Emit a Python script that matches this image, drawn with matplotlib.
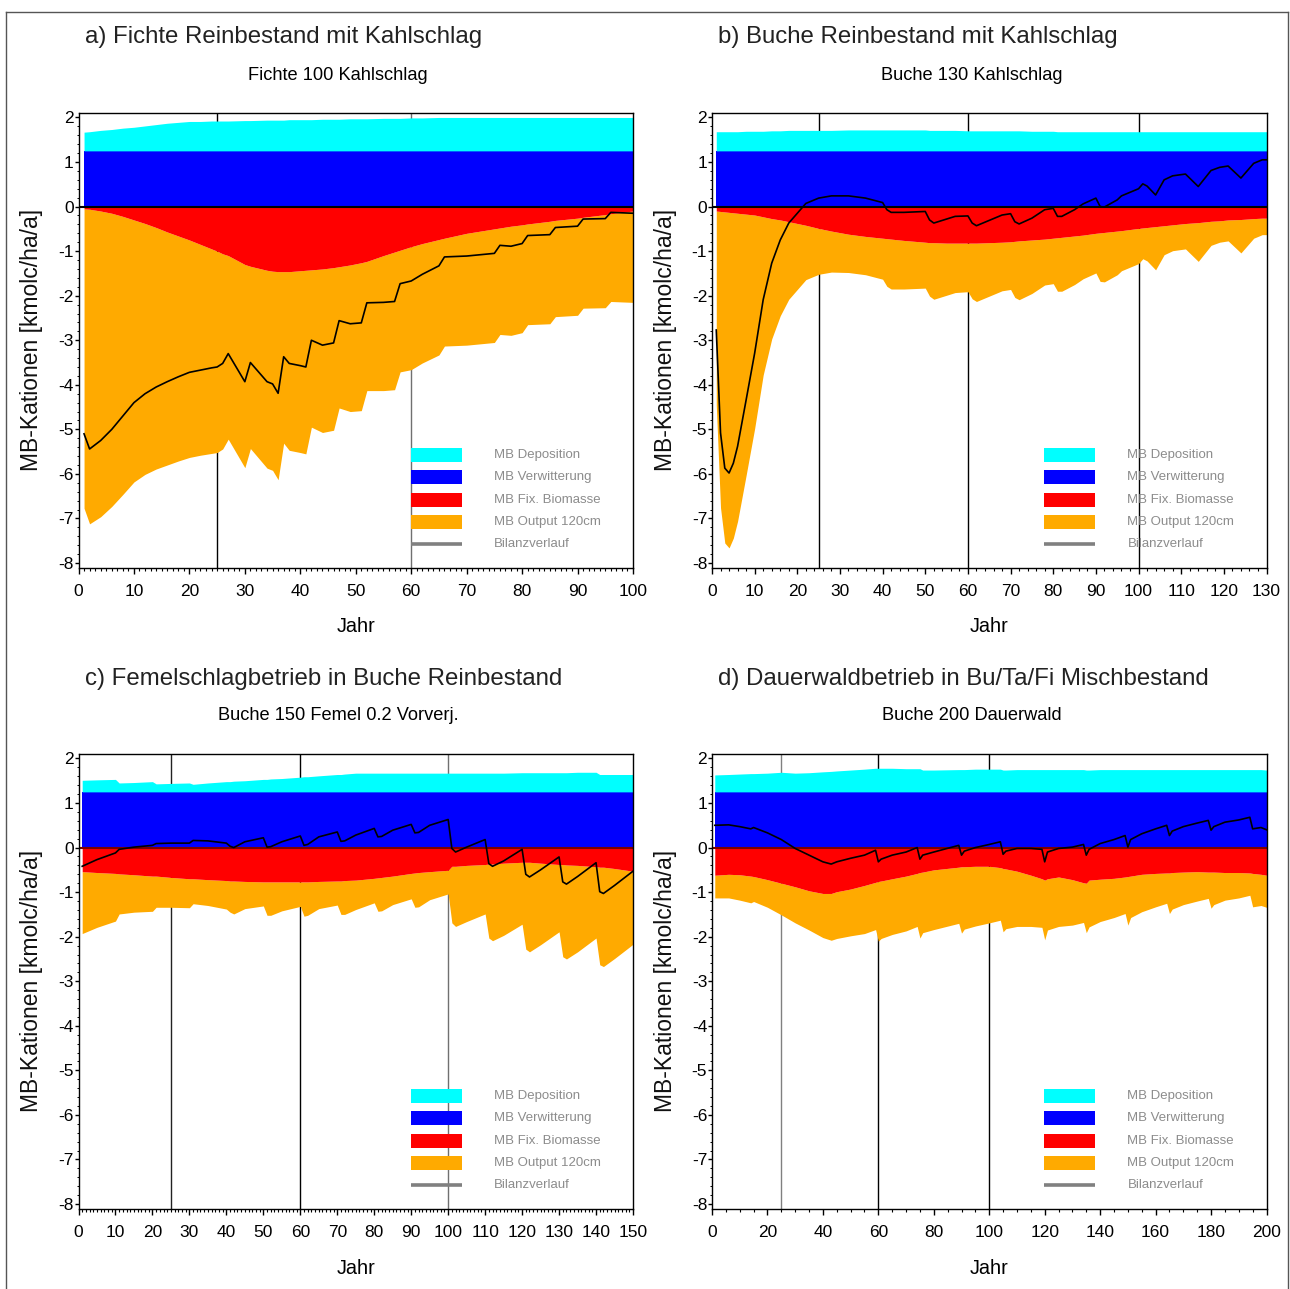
import numpy as np
import matplotlib
matplotlib.use("Agg")
import matplotlib.pyplot as plt
from matplotlib import font_manager
from matplotlib.lines import Line2D
from matplotlib.patches import Rectangle
from matplotlib.ticker import MultipleLocator

# fonts: condensed face for ticks / subtitles if available
installed = {f.name for f in font_manager.fontManager.ttflist}
NARROW = "Liberation Sans Narrow" if "Liberation Sans Narrow" in installed else "Liberation Sans"
SCALE = 1.0 if NARROW == "Liberation Sans Narrow" else 0.82
plt.rcParams["font.family"] = [NARROW, "DejaVu Sans"]
plt.rcParams["axes.unicode_minus"] = False

CYAN, BLUE, RED, ORANGE = "#00ffff", "#0000ff", "#ff0000", "#ffaa00"

weathering = 1.25  # MB Verwitterung, constant in all scenarios

# ---- a) Fichte 100 Kahlschlag ----
years_a = [1, 2, 4, 6, 8, 10, 12, 14, 16, 18,
           20, 22, 24, 25, 26, 27, 30, 31, 34, 35,
           36, 37, 38, 40, 41, 42, 44, 46, 47, 49,
           51, 52, 55, 57, 58, 60, 62, 65, 66, 70,
           75, 76, 78, 80, 81, 85, 86, 90, 91, 95,
           96, 100]
dep_a = [0.42, 0.43, 0.46, 0.48, 0.51, 0.53, 0.56, 0.59, 0.62, 0.64,
         0.66, 0.66, 0.67, 0.67, 0.67, 0.67, 0.68, 0.68, 0.69, 0.69,
         0.69, 0.69, 0.70, 0.70, 0.70, 0.70, 0.71, 0.71, 0.71, 0.72,
         0.72, 0.72, 0.73, 0.73, 0.73, 0.74, 0.74, 0.75, 0.75, 0.75,
         0.75, 0.75, 0.75, 0.75, 0.75, 0.75, 0.75, 0.75, 0.75, 0.75,
         0.75, 0.75]
fix_a = [0.05, 0.06, 0.10, 0.15, 0.22, 0.30, 0.38, 0.47, 0.57, 0.66,
         0.75, 0.85, 0.95, 1.00, 1.06, 1.10, 1.30, 1.34, 1.43, 1.45,
         1.46, 1.46, 1.46, 1.44, 1.43, 1.42, 1.40, 1.37, 1.35, 1.31,
         1.26, 1.23, 1.10, 1.02, 0.98, 0.90, 0.83, 0.74, 0.71, 0.60,
         0.50, 0.48, 0.44, 0.41, 0.39, 0.33, 0.31, 0.26, 0.24, 0.18,
         0.16, 0.10]
bal_a = [-5.10, -5.44, -5.25, -5.00, -4.70, -4.40, -4.20, -4.05, -3.93, -3.82,
         -3.72, -3.67, -3.62, -3.60, -3.52, -3.30, -3.93, -3.50, -3.93, -3.98,
         -4.19, -3.37, -3.52, -3.57, -3.60, -3.00, -3.11, -3.06, -2.56, -2.63,
         -2.61, -2.16, -2.15, -2.13, -1.73, -1.67, -1.52, -1.33, -1.13, -1.11,
         -1.05, -0.87, -0.89, -0.83, -0.65, -0.63, -0.47, -0.44, -0.28, -0.27,
         -0.13, -0.15]

# ---- b) Buche 130 Kahlschlag ----
years_b = [1, 2, 3, 4, 5, 6, 8, 10, 12, 14,
           16, 18, 20, 22, 25, 28, 32, 36, 40, 41,
           42, 45, 50, 51, 52, 55, 57, 60, 61, 62,
           65, 68, 70, 71, 72, 75, 78, 80, 81, 82,
           85, 87, 90, 91, 92, 95, 96, 100, 101, 102,
           104, 106, 108, 111, 114, 117, 119, 121, 124, 127,
           129, 130]
dep_b = [0.43, 0.43, 0.43, 0.43, 0.43, 0.43, 0.44, 0.44, 0.44, 0.45,
         0.45, 0.46, 0.46, 0.46, 0.46, 0.46, 0.47, 0.47, 0.47, 0.47,
         0.47, 0.47, 0.47, 0.46, 0.46, 0.46, 0.46, 0.45, 0.45, 0.45,
         0.45, 0.45, 0.45, 0.45, 0.45, 0.44, 0.44, 0.44, 0.43, 0.43,
         0.43, 0.43, 0.43, 0.43, 0.43, 0.43, 0.43, 0.43, 0.43, 0.43,
         0.43, 0.43, 0.43, 0.43, 0.43, 0.43, 0.43, 0.43, 0.43, 0.43,
         0.43, 0.43]
fix_b = [0.10, 0.11, 0.12, 0.13, 0.14, 0.15, 0.17, 0.19, 0.23, 0.27,
         0.30, 0.34, 0.38, 0.42, 0.49, 0.55, 0.62, 0.67, 0.71, 0.72,
         0.73, 0.76, 0.80, 0.81, 0.81, 0.82, 0.82, 0.82, 0.82, 0.82,
         0.81, 0.80, 0.79, 0.78, 0.77, 0.75, 0.73, 0.71, 0.70, 0.69,
         0.66, 0.64, 0.60, 0.59, 0.58, 0.55, 0.54, 0.49, 0.48, 0.47,
         0.45, 0.43, 0.41, 0.38, 0.36, 0.33, 0.32, 0.30, 0.29, 0.27,
         0.26, 0.26]
bal_b = [-2.77, -5.08, -5.87, -5.98, -5.76, -5.38, -4.34, -3.29, -2.09, -1.27,
         -0.75, -0.37, -0.15, 0.07, 0.19, 0.24, 0.24, 0.19, 0.09, -0.07,
         -0.13, -0.13, -0.11, -0.30, -0.37, -0.28, -0.22, -0.21, -0.37, -0.43,
         -0.31, -0.19, -0.16, -0.34, -0.39, -0.26, -0.07, -0.04, -0.22, -0.22,
         -0.07, 0.06, 0.19, 0.00, -0.01, 0.15, 0.24, 0.40, 0.51, 0.46,
         0.26, 0.60, 0.69, 0.73, 0.45, 0.81, 0.88, 0.91, 0.64, 0.97,
         1.05, 1.05]

# ---- c) Buche 150 Femel 0.2 Vorverj. ----
years_c = [1, 5, 10, 11, 15, 20, 21, 25, 30, 31,
           35, 40, 41, 42, 45, 50, 51, 52, 55, 60,
           61, 62, 65, 70, 71, 72, 75, 80, 81, 82,
           85, 90, 91, 92, 95, 100, 101, 102, 105, 110,
           111, 112, 115, 120, 121, 122, 125, 130, 131, 132,
           135, 140, 141, 142, 145, 150]
dep_c = [0.26, 0.27, 0.28, 0.20, 0.21, 0.23, 0.18, 0.19, 0.20, 0.17,
         0.20, 0.23, 0.23, 0.24, 0.25, 0.28, 0.28, 0.29, 0.30, 0.33,
         0.34, 0.34, 0.36, 0.39, 0.39, 0.40, 0.42, 0.42, 0.42, 0.42,
         0.42, 0.42, 0.42, 0.42, 0.42, 0.42, 0.42, 0.42, 0.42, 0.42,
         0.42, 0.42, 0.42, 0.43, 0.43, 0.43, 0.43, 0.43, 0.43, 0.43,
         0.44, 0.44, 0.39, 0.39, 0.39, 0.39]
fix_c = [0.54, 0.56, 0.58, 0.59, 0.61, 0.64, 0.64, 0.67, 0.70, 0.70,
         0.72, 0.74, 0.75, 0.75, 0.76, 0.77, 0.77, 0.77, 0.77, 0.77,
         0.77, 0.77, 0.76, 0.75, 0.75, 0.74, 0.73, 0.69, 0.68, 0.67,
         0.64, 0.58, 0.57, 0.56, 0.54, 0.51, 0.42, 0.42, 0.40, 0.38,
         0.37, 0.37, 0.35, 0.33, 0.33, 0.33, 0.35, 0.38, 0.38, 0.39,
         0.40, 0.43, 0.44, 0.44, 0.47, 0.53]
bal_c = [-0.42, -0.27, -0.12, -0.04, 0.01, 0.05, 0.09, 0.10, 0.10, 0.16,
         0.15, 0.10, 0.03, 0.00, 0.13, 0.22, 0.01, 0.02, 0.13, 0.26,
         0.05, 0.07, 0.24, 0.35, 0.14, 0.15, 0.28, 0.43, 0.24, 0.25,
         0.39, 0.52, 0.33, 0.34, 0.50, 0.63, -0.02, -0.10, 0.01, 0.18,
         -0.36, -0.42, -0.30, -0.04, -0.60, -0.66, -0.50, -0.21, -0.77, -0.82,
         -0.65, -0.34, -0.99, -1.03, -0.85, -0.53]

# ---- d) Buche 200 Dauerwald ----
years_d = [1, 6, 10, 14, 15, 20, 25, 30, 35, 40,
           43, 45, 50, 55, 59, 60, 61, 65, 70, 74,
           75, 76, 80, 89, 90, 91, 95, 100, 104, 105,
           106, 110, 115, 119, 120, 121, 125, 130, 134, 135,
           136, 140, 145, 149, 150, 151, 155, 160, 164, 165,
           166, 170, 175, 179, 180, 181, 185, 190, 194, 195,
           198, 200]
dep_d = [0.38, 0.39, 0.40, 0.41, 0.41, 0.42, 0.44, 0.42, 0.43, 0.45,
         0.46, 0.47, 0.49, 0.51, 0.53, 0.53, 0.53, 0.53, 0.52, 0.52,
         0.52, 0.49, 0.49, 0.50, 0.50, 0.50, 0.51, 0.51, 0.51, 0.49,
         0.49, 0.50, 0.50, 0.50, 0.50, 0.50, 0.50, 0.50, 0.50, 0.49,
         0.49, 0.50, 0.50, 0.50, 0.50, 0.50, 0.50, 0.50, 0.50, 0.50,
         0.50, 0.50, 0.50, 0.50, 0.50, 0.50, 0.50, 0.50, 0.50, 0.50,
         0.50, 0.49]
fix_d = [0.62, 0.60, 0.61, 0.64, 0.65, 0.72, 0.80, 0.88, 0.97, 1.03,
         1.03, 0.99, 0.93, 0.85, 0.78, 0.76, 0.75, 0.70, 0.64, 0.58,
         0.56, 0.55, 0.50, 0.44, 0.43, 0.43, 0.42, 0.42, 0.45, 0.47,
         0.48, 0.53, 0.62, 0.70, 0.73, 0.70, 0.66, 0.72, 0.79, 0.80,
         0.73, 0.71, 0.69, 0.66, 0.65, 0.64, 0.60, 0.58, 0.57, 0.57,
         0.56, 0.55, 0.54, 0.55, 0.55, 0.55, 0.56, 0.56, 0.57, 0.58,
         0.60, 0.62]
bal_d = [0.50, 0.51, 0.47, 0.42, 0.45, 0.33, 0.18, -0.02, -0.17, -0.32,
         -0.37, -0.32, -0.24, -0.17, -0.06, -0.32, -0.26, -0.17, -0.10, 0.00,
         -0.26, -0.17, -0.10, 0.05, -0.17, -0.08, 0.00, 0.07, 0.13, -0.15,
         -0.08, -0.02, -0.02, -0.04, -0.32, -0.10, -0.02, 0.01, 0.07, -0.17,
         -0.04, 0.09, 0.18, 0.27, 0.01, 0.18, 0.31, 0.42, 0.50, 0.27,
         0.37, 0.47, 0.55, 0.61, 0.39, 0.47, 0.57, 0.62, 0.68, 0.42,
         0.45, 0.40]

titles = ["a) Fichte Reinbestand mit Kahlschlag", "b) Buche Reinbestand mit Kahlschlag",
          "c) Femelschlagbetrieb in Buche Reinbestand", "d) Dauerwaldbetrieb in Bu/Ta/Fi Mischbestand"]
subtitles = ["Fichte 100 Kahlschlag", "Buche 130 Kahlschlag",
             "Buche 150 Femel 0.2 Vorverj.", "Buche 200 Dauerwald"]
legend_labels = ["MB Deposition", "MB Verwitterung", "MB Fix. Biomasse",
                 "MB Output 120cm", "Bilanzverlauf"]

W, H = 1290, 1289
fig = plt.figure(figsize=(W / 100, H / 100), dpi=100)


def fx(px):
    return px / W


def fy(py):
    return 1 - py / H


panels = [
    # data, xmax, major, minor, vlines(year, colour), zero colour, box px (l, t, r, b)
    ((years_a, dep_a, fix_a, bal_a), 100, 10, 1, [(25, "#000000"), (60, "#707070")], "black", (78.5, 113, 633, 567.5)),
    ((years_b, dep_b, fix_b, bal_b), 130, 10, 2, [(25, "#000000"), (60, "#000000"), (100, "#000000")], "black", (712, 113, 1266.5, 567.5)),
    ((years_c, dep_c, fix_c, bal_c), 150, 10, 1, [(25, "#222222"), (60, "#000000"), (100, "#707070")], "#7a0000", (78.5, 754, 633, 1208.5)),
    ((years_d, dep_d, fix_d, bal_d), 200, 20, 5, [(25, "#808080"), (60, "#000000"), (100, "#000000")], "#7a0000", (712, 754, 1266.5, 1208.5)),
]

legend_rows = [0.2475, 0.1991, 0.1485, 0.1001, 0.0517]
legend_cols = [CYAN, BLUE, RED, ORANGE, "#808080"]
tick_size = 14 if NARROW == "Liberation Sans Narrow" else 12.5

for k, (data, xmax, major, minor, vlines, zcol, box) in enumerate(panels):
    l, t, r, b = box
    ax = fig.add_axes([fx(l), fy(b), (r - l) / W, (b - t) / H])
    years, dep, fix, bal = (np.array(v, dtype=float) for v in data)
    verw = np.full(len(years), weathering)
    # output below 120cm closes the balance: bal = dep + verw - fix - out
    out = dep + verw - fix - bal

    for x, c in vlines:
        ax.axvline(x, color=c, lw=1, zorder=0.5)
    ax.fill_between(years, -fix, -fix - out, color=ORANGE, lw=0, zorder=1)
    ax.fill_between(years, 0, -fix, color=RED, lw=0, zorder=1.2)
    ax.fill_between(years, 0, verw, color=BLUE, lw=0, zorder=1.2)
    ax.fill_between(years, verw, verw + dep, color=CYAN, lw=0, zorder=1.2)
    ax.axhline(0, color=zcol, lw=1.5, zorder=2)
    ax.plot(years, bal, color="black", lw=1.2, zorder=3)

    ax.set_xlim(0, xmax)
    ax.set_ylim(-8.1, 2.1)
    ax.xaxis.set_major_locator(MultipleLocator(major))
    ax.xaxis.set_minor_locator(MultipleLocator(minor))
    ax.yaxis.set_major_locator(MultipleLocator(1))
    ax.yaxis.set_minor_locator(MultipleLocator(0.2))
    ax.tick_params(axis="x", which="major", direction="out", length=4, width=1, pad=8,
                   labelsize=tick_size)
    ax.tick_params(axis="x", which="minor", direction="out", length=2.5, width=0.8)
    ax.tick_params(axis="y", which="major", direction="out", length=3, width=1, pad=0.5,
                   labelsize=tick_size)
    ax.tick_params(axis="y", which="minor", direction="out", length=1.8, width=0.7)
    for s in ax.spines.values():
        s.set_linewidth(1)
        s.set_zorder(4)

    # legend drawn inside the plot area
    hh = 14 / (b - t)
    for lab, col, yr in zip(legend_labels, legend_cols, legend_rows):
        if lab == "Bilanzverlauf":
            ax.plot([0.5996, 0.6916], [yr, yr], transform=ax.transAxes, color=col,
                    lw=2.6, solid_capstyle="butt", zorder=6)
        else:
            ax.add_patch(Rectangle((0.5996, yr - hh / 2), 0.092, hh, transform=ax.transAxes,
                                   facecolor=col, lw=0, zorder=6))
        ax.text(0.7493, yr, lab, transform=ax.transAxes, va="center", ha="left",
                color="#8c8c8c", fontsize=11.6 * SCALE, zorder=6)

    top_row = t < 400
    fig.text(fx(l + 6.5), fy(37 if top_row else 679), titles[k], ha="left", va="center",
             fontsize=17.3, color="#222222", family=["Liberation Sans", "DejaVu Sans"])
    fig.text(fx(l + 259.5), fy(75 if top_row else 716), subtitles[k], ha="center", va="center",
             fontsize=16 * SCALE, color="black")
    fig.text(fx((l + r) / 2), fy(627 if top_row else 1268), "Jahr", ha="center", va="center",
             fontsize=17.5 * SCALE, color="black")
    fig.text(fx(l - 46.5), fy((t + b) / 2), "MB-Kationen [kmolc/ha/a]", rotation=90,
             ha="center", va="center", fontsize=16.5, color="#111111",
             family=["Liberation Sans", "DejaVu Sans"])

# outer frame (left, top, right)
frame = dict(transform=fig.transFigure, color="#555555", lw=1)
fig.add_artist(Line2D([fx(6), fx(6)], [0, fy(12)], **frame))
fig.add_artist(Line2D([fx(6), fx(1288)], [fy(12), fy(12)], **frame))
fig.add_artist(Line2D([fx(1288), fx(1288)], [0, fy(12)], **frame))

fig.savefig("out.png", dpi=100)
